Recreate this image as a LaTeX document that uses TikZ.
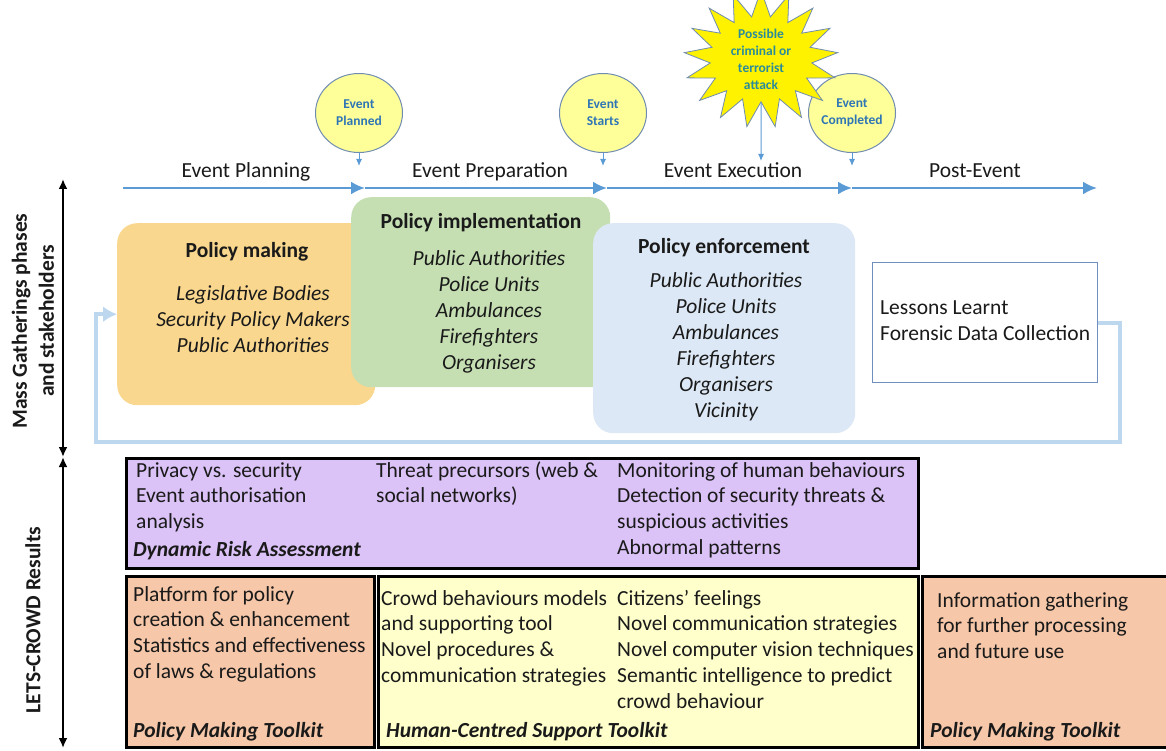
\documentclass[tikz,border=0pt]{standalone}
\usepackage{fontspec}
\setmainfont{Carlito}
\usetikzlibrary{arrows.meta,shapes.geometric,shapes.symbols}
\definecolor{tlblue}{HTML}{5B9BD5}
\definecolor{fbblue}{HTML}{BDD7EE}
\definecolor{pmfill}{HTML}{F9D78E}
\definecolor{pifill}{HTML}{C5DFB3}
\definecolor{pefill}{HTML}{DCE8F5}
\definecolor{purfill}{HTML}{DBC2F7}
\definecolor{salfill}{HTML}{F6C7A8}
\definecolor{yelfill}{HTML}{FFFFCC}
\definecolor{circfill}{HTML}{FFFF99}
\definecolor{circline}{HTML}{6F8CB0}
\definecolor{circtext}{HTML}{2E75B6}
\definecolor{startext}{HTML}{2A8C9A}
\definecolor{llline}{HTML}{6F8FBF}
\definecolor{txt}{HTML}{1A1A1A}
\begin{document}
\begin{tikzpicture}[x=1pt,y=-1pt,
  every node/.style={inner sep=0pt, text=txt},
  body/.style={font=\fontsize{21.5}{25.8}\selectfont},
  lbody/.style={body, align=left, anchor=base west},
  cbody/.style={font=\fontsize{21.5}{26}\selectfont\itshape, align=center, anchor=base},
  ctitle/.style={font=\fontsize{21.5}{26}\selectfont\bfseries, anchor=base},
  tool/.style={font=\fontsize{21.5}{25.8}\selectfont\bfseries\itshape, anchor=base west},
  phase/.style={font=\fontsize{21.5}{25}\selectfont, anchor=base},
  rbox/.style={rounded corners=20pt, draw=none, anchor=north west},
  sqbox/.style={draw=black, line width=2.5pt, anchor=north west},
  evt/.style={ellipse, draw=circline, line width=1pt, fill=circfill, minimum width=87pt, minimum height=79pt,
     font=\fontsize{13.5}{17}\selectfont\bfseries, text=circtext, align=center},
  tl/.style={draw=tlblue, line width=2.5pt, -{Latex[length=14pt,width=13pt]}},
  da/.style={draw=tlblue, line width=1pt, -{Latex[length=7pt,width=6pt]}},
  fb/.style={draw=fbblue, line width=4pt, -{Latex[length=14pt,width=16pt]}},
  ax/.style={draw=black, line width=2.5pt, {Latex[length=10pt,width=9pt]}-{Latex[length=10pt,width=9pt]}},
  axlab/.style={font=\fontsize{21.5}{27}\selectfont\bfseries, align=center, rotate=90}
]
\useasboundingbox (0,0) rectangle (1166,751);

% ---------- timeline ----------
\coordinate (t0) at (123,188);
\coordinate (t1) at (365,188);
\coordinate (t2) at (607,188);
\coordinate (t3) at (852,188);
\coordinate (t4) at (1097,188);
\draw[tl] (t0) -- (t1);
\draw[tl] (t1) -- (t2);
\draw[tl] (t2) -- (t3);
\draw[tl] (t3) -- (t4);

\node[phase] (ph1) at (246,178) {Event Planning};
\node[phase] (ph2) at (490,178) {Event Preparation};
\node[phase] (ph3) at (733,178) {Event Execution};
\node[phase] (ph4) at (975,178) {Post-Event};

% ---------- events ----------
\node[evt] (ep) at (359,113) {Event\\Planned};
\node[evt] (es) at (603,113) {Event\\Starts};
\node[evt] (ec) at (852,113) {Event\\Completed};
\node[starburst, starburst points=17, starburst point height=26pt, random starburst=0,
      draw=circline, line width=0.8pt, fill=yellow, minimum width=154pt, minimum height=110pt,
      font=\fontsize{13.5}{17}\selectfont\bfseries, text=startext, align=center] (atk) at (761,59)
      {Possible\\criminal or\\terrorist\\attack};
\coordinate (d1) at (359,166);
\coordinate (d2) at (603,166);
\coordinate (d3) at (852,166);
\coordinate (d4) at (761,161);
\draw[da] (ep.south) -- (d1);
\draw[da] (es.south) -- (d2);
\draw[da] (ec.south) -- (d3);
\draw[da] (atk.south) -- (d4);

% ---------- phase boxes ----------
\node[rbox, fill=pmfill, minimum width=258pt, minimum height=182pt] (pm) at (117,223) {};
\node[rbox, fill=pifill, minimum width=259pt, minimum height=190pt] (pi) at (351,197) {};
\node[rbox, fill=pefill, minimum width=262pt, minimum height=210pt] (pe) at (593,223) {};
\node[draw=llline, line width=1pt, fill=white, minimum width=225pt, minimum height=120pt, anchor=north west] (ll) at (872,262) {};

% multi-line nodes: base anchor = baseline of the last line
\node[ctitle] (pmt) at (247,258) {Policy making};
\node[cbody] (pml) at (253,352) {Legislative Bodies\\Security Policy Makers\\Public Authorities};
\node[ctitle] (pit) at (481,229) {Policy implementation};
\node[cbody] (pil) at (489,369) {Public Authorities\\Police Units\\Ambulances\\Firefighters\\Organisers};
\node[ctitle] (pet) at (724,253) {Policy enforcement};
\node[cbody] (pel) at (726,417) {Public Authorities\\Police Units\\Ambulances\\Firefighters\\Organisers\\Vicinity};
\node[lbody] (llt) at (880,340) {Lessons Learnt\\Forensic Data Collection};

% feedback loop
\coordinate (fbR) at (1120,442);
\coordinate (fbL) at (96,442);
\draw[fb] (ll.east) -| (fbR) -- (fbL) |- (pm.west);

% ---------- left axis ----------
\coordinate (a0) at (63,179);
\coordinate (a1) at (63,457);
\coordinate (a2) at (63,748);
\draw[ax] (a0) -- (a1);
\draw[ax] (a1) -- (a2);
\node[axlab] (lab1) at (33,321) {Mass Gatherings phases\\and stakeholders};
\node[axlab] (lab2) at (33,620) {LETS-CROWD Results};

% ---------- results ----------
\node[sqbox, fill=purfill, minimum width=792pt, minimum height=110pt] (dra) at (125,457) {};
\node[sqbox, fill=salfill, minimum width=248pt, minimum height=171pt] (pmk1) at (125,575) {};
\node[sqbox, fill=yelfill, minimum width=540pt, minimum height=171pt] (hcs) at (377,575) {};
\node[sqbox, fill=salfill, minimum width=252pt, minimum height=171pt] (pmk2) at (921,575) {};

\node[lbody] (r1) at (136,528.6) {Privacy vs. security\\Event authorisation\\analysis};
\node[tool] (r1t) at (133,556) {Dynamic Risk Assessment};
\node[lbody] (r2) at (376,502.8) {Threat precursors (web \&\\social networks)};
\node[lbody] (r3) at (617,554.4) {Monitoring of human behaviours\\Detection of security threats \&\\suspicious activities\\Abnormal patterns};

\node[lbody] (s1) at (133,678.4) {Platform for policy\\creation \& enhancement\\Statistics and effectiveness\\of laws \& regulations};
\node[tool] (s1t) at (133,737) {Policy Making Toolkit};
\node[lbody] (s2) at (381,682.4) {Crowd behaviours models\\and supporting tool\\Novel procedures \&\\communication strategies};
\node[lbody] (s3) at (617,708.2) {Citizens’ feelings\\Novel communication strategies\\Novel computer vision techniques\\Semantic intelligence to predict\\crowd behaviour};
\node[tool] (s2t) at (386,737) {Human-Centred Support Toolkit};
\node[lbody] (s4) at (937,658.6) {Information gathering\\for further processing\\and future use};
\node[tool] (s4t) at (930,737) {Policy Making Toolkit};
\end{tikzpicture}
\end{document}
